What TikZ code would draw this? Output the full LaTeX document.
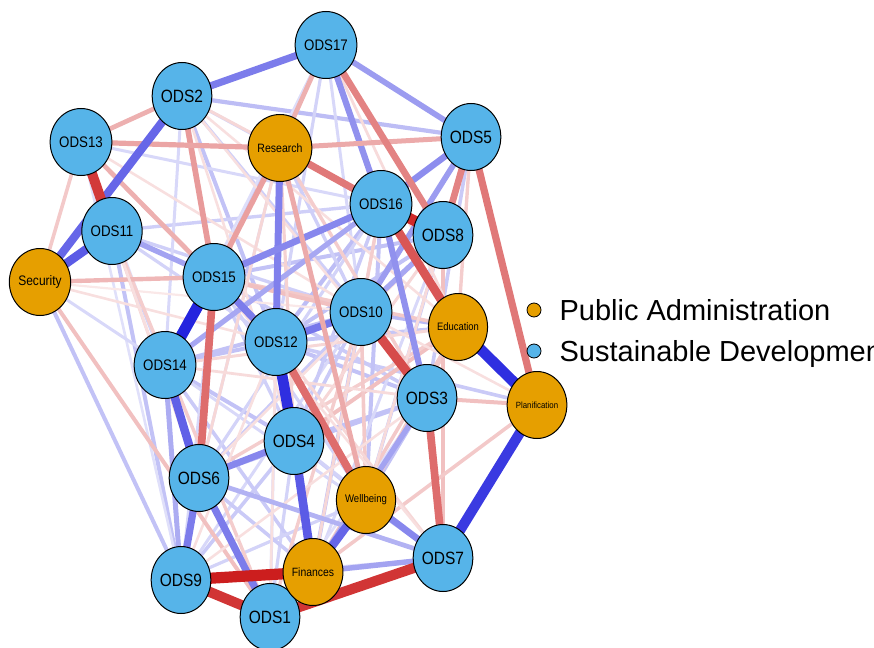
\documentclass[tikz,border=0pt]{standalone}
\usepackage{fontspec}
\setmainfont{Liberation Sans}
\newfontfamily\vertfont[FakeStretch=0.87]{Liberation Sans}
\usetikzlibrary{shapes.geometric, positioning, backgrounds}
\definecolor{sdblue}{RGB}{86,180,233}
\definecolor{paorange}{RGB}{230,159,0}
\definecolor{eblue}{RGB}{36,36,222}
\definecolor{ered}{RGB}{204,30,30}

\begin{document}
\begin{tikzpicture}[x=1pt, y=-1pt,
  vert/.style={ellipse, draw, line width=1pt, minimum width=58, minimum height=67, inner sep=0pt},
  sd/.style={vert, fill=sdblue, font=\vertfont\fontsize{#1}{#1}\selectfont},
  pa/.style={vert, fill=paorange, font=\vertfont\fontsize{#1}{#1}\selectfont},
  pos/.style={draw=eblue!#1, line width=1.2pt+0.1pt*#1},
  neg/.style={draw=ered!#1, line width=1.2pt+0.1pt*#1},
  key/.style={circle, draw, line width=0.8pt, minimum size=14, inner sep=0pt},
  keytext/.style={font=\fontsize{29}{29}\selectfont, inner sep=0pt, text depth=0pt}]
  \path[use as bounding box, clip] (0,0) rectangle (874,647);
  \node[sd=15.3] (O17) at (326,45) {ODS17};
  \node[sd=17.8] (O2) at (182,96) {ODS2};
  \node[sd=15.3] (O13) at (81,142) {ODS13};
  \node[pa=12.1] (Res) at (280,148) {Research};
  \node[sd=17.8] (O5) at (471,137) {ODS5};
  \node[sd=15.3] (O16) at (381,204) {ODS16};
  \node[sd=17.8] (O8) at (443,235) {ODS8};
  \node[sd=15.3] (O11) at (112,231) {ODS11};
  \node[pa=13.8] (Sec) at (40,282) {Security};
  \node[sd=15.3] (O15) at (214,277) {ODS15};
  \node[sd=15.3] (O10) at (361,312) {ODS10};
  \node[pa=10.8] (Edu) at (458,327) {Education};
  \node[sd=15.3] (O12) at (276,342) {ODS12};
  \node[sd=15.3] (O14) at (165,365) {ODS14};
  \node[sd=17.8] (O3) at (427,398) {ODS3};
  \node[pa=9] (Pla) at (537,405) {Planification};
  \node[sd=17.8] (O4) at (294,441) {ODS4};
  \node[sd=17.8] (O6) at (199,478) {ODS6};
  \node[pa=11] (Wel) at (366,500) {Wellbeing};
  \node[sd=17.8] (O7) at (443,558) {ODS7};
  \node[sd=17.8] (O9) at (181,580) {ODS9};
  \node[sd=17.8] (O1) at (270,617) {ODS1};
  \node[pa=12] (Fin) at (313,572) {Finances};
  % legend
  \node[key, fill=paorange] (KeyPA) at (534,310) {};
  \node[key, fill=sdblue] (KeySD) at (534,351) {};
  \node[keytext] (TxtPA) [right=18 of KeyPA] {Public Administration};
  \node[keytext] (TxtSD) [right=18 of KeySD] {Sustainable Development};
  \begin{pgfonlayer}{background}
    % weak edges
    \foreach \a/\b/\w in {O2/O5/30, O2/O12/28, O2/O10/22, O2/O16/20, O13/O16/18, O11/O16/22,
      O11/O10/22, O11/O9/28, O13/O9/14, Sec/O9/28, Sec/O14/18, O14/O10/28, O15/O8/28, O15/O3/24,
      O12/O8/28, O12/O3/28, O12/Edu/26, O10/Edu/32, O10/O8/32, O4/O3/28, O4/O10/24, O6/O10/24,
      O6/O3/28, O12/Pla/24, O14/O4/28, O14/O12/28, O15/O4/22, O9/O4/24, O9/O10/18, O1/O4/20,
      O1/O12/18, O17/O10/18, O17/O15/24, O17/O12/20, O5/O3/24, O16/O4/24, O16/Wel/28, O8/Wel/24,
      O8/Fin/18, O10/Fin/28, O14/Fin/24, O9/Wel/20, O6/Fin/24, O15/Wel/20, O16/O12/30, O16/O6/20,
      O11/O14/20, O13/O14/14, O2/O14/18, Res/O10/22, Res/O6/18, O17/O14/15, O15/O9/18, O11/O12/20,
      O4/Wel/22, O3/Wel/28, O9/O7/15, O14/O7/18, O4/O7/20, O3/O1/15}
      \draw[pos=\w] (\a.center) -- (\b.center);
    \foreach \a/\b/\w in {O13/O12/18, O13/O10/14, O2/O8/18, O2/Edu/14, Res/O3/22, Res/O8/20,
      Res/O14/14, O15/Edu/24, O15/O10/28, O4/Edu/28, O6/Edu/22, Wel/Edu/24, Fin/Edu/24, Fin/O16/18,
      O1/O10/22, O1/Res/14, O9/O12/14, O6/Res/18, O14/Edu/18, O4/O8/18, O8/O7/28, O3/Pla/28,
      Pla/Fin/24, Pla/O10/14, O5/Edu/22, O17/Edu/16, O10/Wel/24, Sec/O12/14, Sec/O10/10, O11/O6/18,
      O11/O1/22, Sec/O13/24, Sec/O1/28, Sec/O15/32, O13/O6/14, O2/O3/14, O12/O7/18, O6/O8/14,
      O16/O10/22, O5/Wel/16, O9/O3/14, O14/O3/16, O15/O7/14, Res/O4/20, O2/O4/14}
      \draw[neg=\w] (\a.center) -- (\b.center);
    % medium edges
    \foreach \a/\b/\w in {O17/O5/45, Fin/O7/42, O3/Fin/42, O16/O14/40, O5/O10/45, O6/O7/35,
      O11/O15/42, O14/O9/38, O8/O10/40, O2/O17/60, Res/O12/58, O15/O12/60, O12/O10/62, O6/O1/60,
      O6/O9/60, O6/O4/55, Wel/O7/55, O16/O15/55, O16/O3/50, O17/O16/50, O5/O16/52}
      \draw[pos=\w] (\a.center) -- (\b.center);
    \foreach \a/\b/\w in {O2/O15/45, Res/O15/42, O13/O2/35, O13/Res/40, Res/O5/38, O17/Res/35,
      O13/O15/35, Res/Wel/38, O3/O7/65, O15/O6/65, O12/Wel/65, O5/Pla/60, O17/O8/55,
      Res/O16/60, O5/O8/55}
      \draw[neg=\w] (\a.center) -- (\b.center);
    % strong edges
    \foreach \a/\b/\w in {O11/Sec/75, O2/Sec/70, O14/O6/72, O4/Fin/75, Fin/Wel/70, O12/O4/95,
      Edu/Pla/95, Pla/O7/90, O15/O14/100}
      \draw[pos=\w] (\a.center) -- (\b.center);
    \foreach \a/\b/\w in {O16/Edu/75, O10/O3/80, O13/O11/88, O9/O1/90, O1/O7/90, O16/O8/95,
      O9/Fin/100}
      \draw[neg=\w] (\a.center) -- (\b.center);
  \end{pgfonlayer}
\end{tikzpicture}
\end{document}
